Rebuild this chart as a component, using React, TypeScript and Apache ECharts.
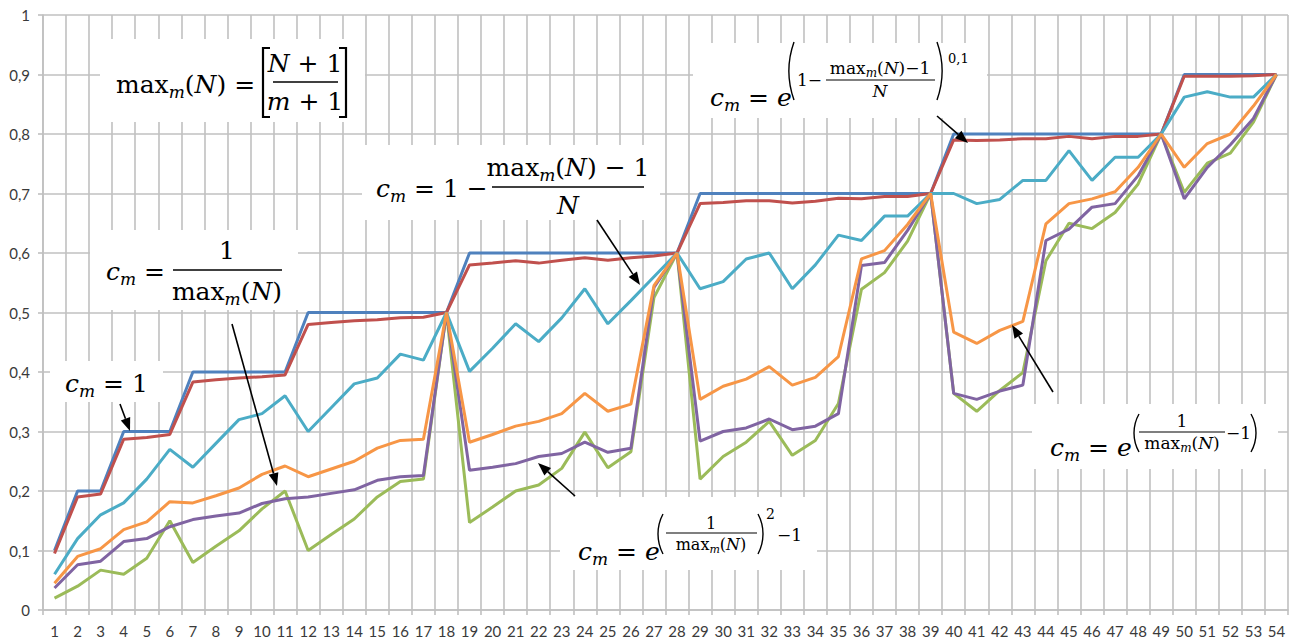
import React, { useEffect, useRef } from "react";
import * as echarts from "echarts";

const categories = [
  "1","2","3","4","5","6","7","8","9","10","11","12","13","14","15","16","17","18",
  "19","20","21","22","23","24","25","26","27","28","29","30","31","32","33","34","35","36",
  "37","38","39","40","41","42","43","44","45","46","47","48","49","50","51","52","53","54",
];

const yTickLabels = ["0", "0,1", "0,2", "0,3", "0,4", "0,5", "0,6", "0,7", "0,8", "0,9", "1"];

// c_m = 1
const seriesBlue = [
  0.1, 0.2, 0.2, 0.3, 0.3, 0.3, 0.4, 0.4, 0.4, 0.4, 0.4,
  0.5, 0.5, 0.5, 0.5, 0.5, 0.5, 0.5,
  0.6, 0.6, 0.6, 0.6, 0.6, 0.6, 0.6, 0.6, 0.6, 0.6,
  0.7, 0.7, 0.7, 0.7, 0.7, 0.7, 0.7, 0.7, 0.7, 0.7, 0.7,
  0.8, 0.8, 0.8, 0.8, 0.8, 0.8, 0.8, 0.8, 0.8, 0.8,
  0.9, 0.9, 0.9, 0.9, 0.9,
];
// c_m = e^(1-(max-1)/N)^0,1
const seriesRed = [
  0.095, 0.19, 0.195, 0.287, 0.29, 0.295, 0.383, 0.387, 0.39, 0.392, 0.395,
  0.48, 0.483, 0.486, 0.488, 0.491, 0.492, 0.5,
  0.58, 0.583, 0.587, 0.583, 0.588, 0.592, 0.588, 0.592, 0.595, 0.6,
  0.683, 0.685, 0.688, 0.688, 0.684, 0.687, 0.692, 0.691, 0.695, 0.695, 0.7,
  0.79, 0.789, 0.79, 0.792, 0.792, 0.796, 0.792, 0.796, 0.796, 0.8,
  0.897, 0.897, 0.897, 0.898, 0.9,
];
// c_m = 1/max_m(N)
const seriesGreen = [
  0.02, 0.04, 0.067, 0.06, 0.087, 0.15, 0.08, 0.107, 0.133, 0.17, 0.2,
  0.1, 0.127, 0.153, 0.19, 0.216, 0.22, 0.5,
  0.147, 0.173, 0.2, 0.21, 0.238, 0.299, 0.239, 0.266, 0.525, 0.6,
  0.22, 0.258, 0.282, 0.317, 0.26, 0.285, 0.347, 0.539, 0.567, 0.62, 0.7,
  0.364, 0.334, 0.369, 0.399, 0.587, 0.65, 0.641, 0.668, 0.716, 0.8,
  0.702, 0.751, 0.768, 0.82, 0.9,
];
// c_m = e^((1/max)^2 - 1)
const seriesPurple = [
  0.037, 0.076, 0.082, 0.115, 0.12, 0.14, 0.152, 0.158, 0.163, 0.179, 0.187,
  0.19, 0.196, 0.202, 0.218, 0.224, 0.226, 0.5,
  0.235, 0.24, 0.246, 0.258, 0.263, 0.282, 0.265, 0.272, 0.542, 0.6,
  0.284, 0.3, 0.306, 0.321, 0.303, 0.309, 0.33, 0.579, 0.584, 0.638, 0.7,
  0.364, 0.354, 0.368, 0.378, 0.621, 0.64, 0.677, 0.683, 0.73, 0.8,
  0.691, 0.744, 0.782, 0.826, 0.9,
];
// c_m = 1 - (max-1)/N
const seriesTeal = [
  0.06, 0.12, 0.16, 0.18, 0.22, 0.27, 0.24, 0.28, 0.32, 0.33, 0.36,
  0.3, 0.34, 0.38, 0.39, 0.43, 0.42, 0.5,
  0.401, 0.44, 0.481, 0.451, 0.491, 0.54, 0.481, 0.52, 0.56, 0.6,
  0.54, 0.552, 0.59, 0.6, 0.54, 0.58, 0.63, 0.621, 0.662, 0.662, 0.7,
  0.7, 0.683, 0.69, 0.722, 0.722, 0.772, 0.722, 0.761, 0.761, 0.8,
  0.862, 0.871, 0.862, 0.862, 0.9,
];
// c_m = e^(1/max - 1)
const seriesOrange = [
  0.045, 0.09, 0.103, 0.135, 0.148, 0.182, 0.18, 0.192, 0.205, 0.228, 0.242,
  0.224, 0.237, 0.25, 0.272, 0.285, 0.287, 0.5,
  0.282, 0.295, 0.309, 0.317, 0.33, 0.364, 0.334, 0.346, 0.545, 0.6,
  0.354, 0.376, 0.388, 0.409, 0.378, 0.391, 0.426, 0.59, 0.604, 0.648, 0.7,
  0.467, 0.448, 0.47, 0.485, 0.649, 0.683, 0.691, 0.703, 0.744, 0.8,
  0.744, 0.784, 0.8, 0.847, 0.9,
];

const SERIF = '"DejaVu Serif", "Liberation Serif", serif';

function richStyles(size: number) {
  const lh = Math.round(size * 1.3);
  const subH = Math.max(2, Math.round(lh - 2 * size * 0.25));
  const supH = Math.max(2, Math.round(lh - 2 * size * 0.4));
  return {
    r: { fontFamily: SERIF, fontSize: size, lineHeight: lh, fill: "#000", verticalAlign: "middle" },
    i: { fontFamily: SERIF, fontSize: size, fontStyle: "italic", lineHeight: lh, fill: "#000", verticalAlign: "middle" },
    s: { fontFamily: SERIF, fontSize: Math.round(size * 0.68), fontStyle: "italic", lineHeight: subH, fill: "#000", verticalAlign: "bottom" },
    p: { fontFamily: SERIF, fontSize: Math.round(size * 0.7), lineHeight: supH, fill: "#000", verticalAlign: "top" },
  };
}

function rt(x: number, y: number, text: string, size: number, align: string = "left") {
  return {
    type: "text",
    x,
    y,
    z: 20,
    style: {
      text,
      rich: richStyles(size),
      fontFamily: SERIF,
      fontSize: size,
      fill: "#000",
      align,
      verticalAlign: "middle",
    },
  };
}

function hline(x1: number, x2: number, y: number, w = 1.5) {
  return { type: "line", z: 20, shape: { x1, y1: y, x2, y2: y }, style: { stroke: "#000", lineWidth: w } };
}

function paren(x: number, cy: number, h: number, side: "l" | "r") {
  const w = 5;
  const r = (h * h / 4 + w * w) / (2 * w);
  const a = Math.asin(h / 2 / r);
  if (side === "l") {
    return { type: "arc", z: 20, shape: { cx: x + r, cy, r, startAngle: Math.PI - a, endAngle: Math.PI + a, clockwise: true }, style: { stroke: "#000", lineWidth: 1.4, fill: null } };
  }
  return { type: "arc", z: 20, shape: { cx: x - r, cy, r, startAngle: -a, endAngle: a, clockwise: true }, style: { stroke: "#000", lineWidth: 1.4, fill: null } };
}

function box(x: number, y: number, w: number, h: number) {
  return { type: "rect", z: 1, shape: { x, y, width: w, height: h }, style: { fill: "#ffffff" } };
}

function arrow(x1: number, y1: number, x2: number, y2: number) {
  const ang = Math.atan2(y2 - y1, x2 - x1);
  const hl = 13;
  const hw = 5;
  const bx = x2 - hl * Math.cos(ang);
  const by = y2 - hl * Math.sin(ang);
  const px = -Math.sin(ang) * hw;
  const py = Math.cos(ang) * hw;
  return [
    { type: "line", z: 21, shape: { x1, y1, x2: bx, y2: by }, style: { stroke: "#000", lineWidth: 1.6 } },
    { type: "polygon", z: 21, shape: { points: [[x2, y2], [bx + px, by + py], [bx - px, by - py]] }, style: { fill: "#000" } },
  ];
}

const MAXN = "{r|max}{s|m}{r|(}{i|N}{r|)}";

function buildGraphics() {
  const F = 25;
  const els: any[] = [];
  // max_m(N) = [(N+1)/(m+1)]
  els.push(box(100, 39, 265, 83));
  els.push(rt(116, 84, "{r|max}{s|m}{r|(}{i|N}{r|) =}", F));
  els.push({ type: "polyline", z: 20, shape: { points: [[270, 48], [263, 48], [263, 117], [270, 117]] }, style: { stroke: "#000", lineWidth: 2.2, fill: null } });
  els.push({ type: "polyline", z: 20, shape: { points: [[339, 48], [346, 48], [346, 117], [339, 117]] }, style: { stroke: "#000", lineWidth: 2.2, fill: null } });
  els.push(rt(305, 63, "{i|N}{r| + 1}", F, "center"));
  els.push(hline(273, 338, 82));
  els.push(rt(305, 101, "{i|m}{r| + 1}", F, "center"));

  // c_m = 1 - (max-1)/N
  els.push(box(362, 145, 298, 75));
  els.push(rt(376, 188, "{i|c}{s|m}{r| = 1 −}", F));
  els.push(rt(568, 167, MAXN + "{r| − 1}", F, "center"));
  els.push(hline(492, 644, 187));
  els.push(rt(568, 205, "{i|N}", F, "center"));

  // c_m = 1/max
  els.push(box(90, 230, 208, 80));
  els.push(rt(106, 271, "{i|c}{s|m}{r| =}", F));
  els.push(rt(227, 250, "{r|1}", F, "center"));
  els.push(hline(173, 282, 270));
  els.push(rt(227, 291, MAXN, F, "center"));

  // c_m = 1
  els.push(box(50, 361, 113, 41));
  els.push(rt(65, 383, "{i|c}{s|m}{r| = 1}", F));

  // c_m = e^((1/max)^2 - 1)
  els.push(box(560, 497, 257, 73));
  els.push(rt(578, 551, "{i|c}{s|m}{r| = }{i|e}", F));
  els.push(paren(658, 534, 40, "l"));
  els.push(rt(711, 523, "{r|1}", 16, "center"));
  els.push(hline(666, 757, 533, 1.1));
  els.push(rt(711, 544, MAXN, 16, "center"));
  els.push(paren(763, 534, 40, "r"));
  els.push(rt(766, 514, "{r|2}", 14));
  els.push(rt(777, 535, "{r|−1}", 17));

  // c_m = e^(1 - (max-1)/N)^0,1
  els.push(box(693, 43, 294, 75));
  els.push(rt(710, 97, "{i|c}{s|m}{r| = }{i|e}", F));
  els.push(paren(789, 71, 58, "l"));
  els.push(rt(797, 80, "{r|1−}", 17));
  els.push(rt(880, 68, "{r|max}{s|m}{r|(}{i|N}{r|)−1}", 17, "center"));
  els.push(hline(826, 935, 80, 1.1));
  els.push(rt(880, 91, "{i|N}", 17, "center"));
  els.push(paren(942, 71, 58, "r"));
  els.push(rt(948, 58, "{r|0,1}", 13));

  // c_m = e^(1/max - 1)
  els.push(box(1032, 404, 246, 65));
  els.push(rt(1050, 447, "{i|c}{s|m}{r| = }{i|e}", F));
  els.push(paren(1134, 433, 38, "l"));
  els.push(rt(1182, 421, "{r|1}", 17, "center"));
  els.push(hline(1139, 1225, 432, 1.1));
  els.push(rt(1182, 443, MAXN, 17, "center"));
  els.push(rt(1226, 433, "{r|−1}", 17));
  els.push(paren(1256, 433, 38, "r"));

  // arrows
  els.push(...arrow(120, 404, 130, 431));
  els.push(...arrow(232, 324, 277, 486));
  els.push(...arrow(597, 220, 640, 285));
  els.push(...arrow(575, 496, 538, 463));
  els.push(...arrow(937, 116, 968, 143));
  els.push(...arrow(1053, 392, 1012, 325));
  return els;
}

const GRID = "#c0c0c0";
const LABEL_FONT = "Lato, 'Open Sans', sans-serif";

export default function App() {
  const ref = useRef<HTMLDivElement>(null);
  useEffect(() => {
    document.body.style.margin = "0";
    if (!ref.current) return;
    const chart = echarts.init(ref.current, undefined, { renderer: "svg" });
    const mk = (name: string, data: number[], color: string) => ({
      name,
      type: "line",
      data,
      symbol: "none",
      smooth: false,
      lineStyle: { color, width: 3 },
      itemStyle: { color },
      z: 3,
    });
    chart.setOption({
      animation: false,
      backgroundColor: "#ffffff",
      grid: { left: 43, right: 3, top: 15, bottom: 27, containLabel: false },
      xAxis: {
        type: "category",
        data: categories,
        boundaryGap: true,
        axisLine: { show: true, lineStyle: { color: GRID, width: 1.6 } },
        axisTick: { show: true, length: 5, interval: 0, lineStyle: { color: GRID, width: 1.6 } },
        splitLine: { show: true, interval: 0, lineStyle: { color: GRID, width: 1.6 } },
        axisLabel: { interval: 0, margin: 13, color: "#3a3a3a", fontFamily: LABEL_FONT, fontSize: 15 },
      },
      yAxis: {
        type: "value",
        min: 0,
        max: 1,
        interval: 0.1,
        axisLine: { show: true, lineStyle: { color: GRID, width: 1.6 } },
        axisTick: { show: true, length: 5, lineStyle: { color: GRID, width: 1.6 } },
        splitLine: { show: true, lineStyle: { color: GRID, width: 1.6 } },
        axisLabel: {
          margin: 13,
          color: "#3a3a3a",
          fontFamily: LABEL_FONT,
          fontSize: 15,
          formatter: (v: number) => yTickLabels[Math.round(v * 10)] ?? "",
        },
      },
      series: [
        mk("c_m = 1", seriesBlue, "#4F81BD"),
        mk("c_m = e^(1-(max_m(N)-1)/N)^0,1", seriesRed, "#C0504D"),
        mk("c_m = 1/max_m(N)", seriesGreen, "#9BBB59"),
        mk("c_m = e^((1/max_m(N))^2-1)", seriesPurple, "#8064A2"),
        mk("c_m = 1-(max_m(N)-1)/N", seriesTeal, "#4BACC6"),
        mk("c_m = e^(1/max_m(N)-1)", seriesOrange, "#F79646"),
      ],
      graphic: { elements: buildGraphics() },
    });
    return () => chart.dispose();
  }, []);
  return <div ref={ref} style={{ width: 1291, height: 638, position: "absolute", left: 0, top: 0 }} />;
}
